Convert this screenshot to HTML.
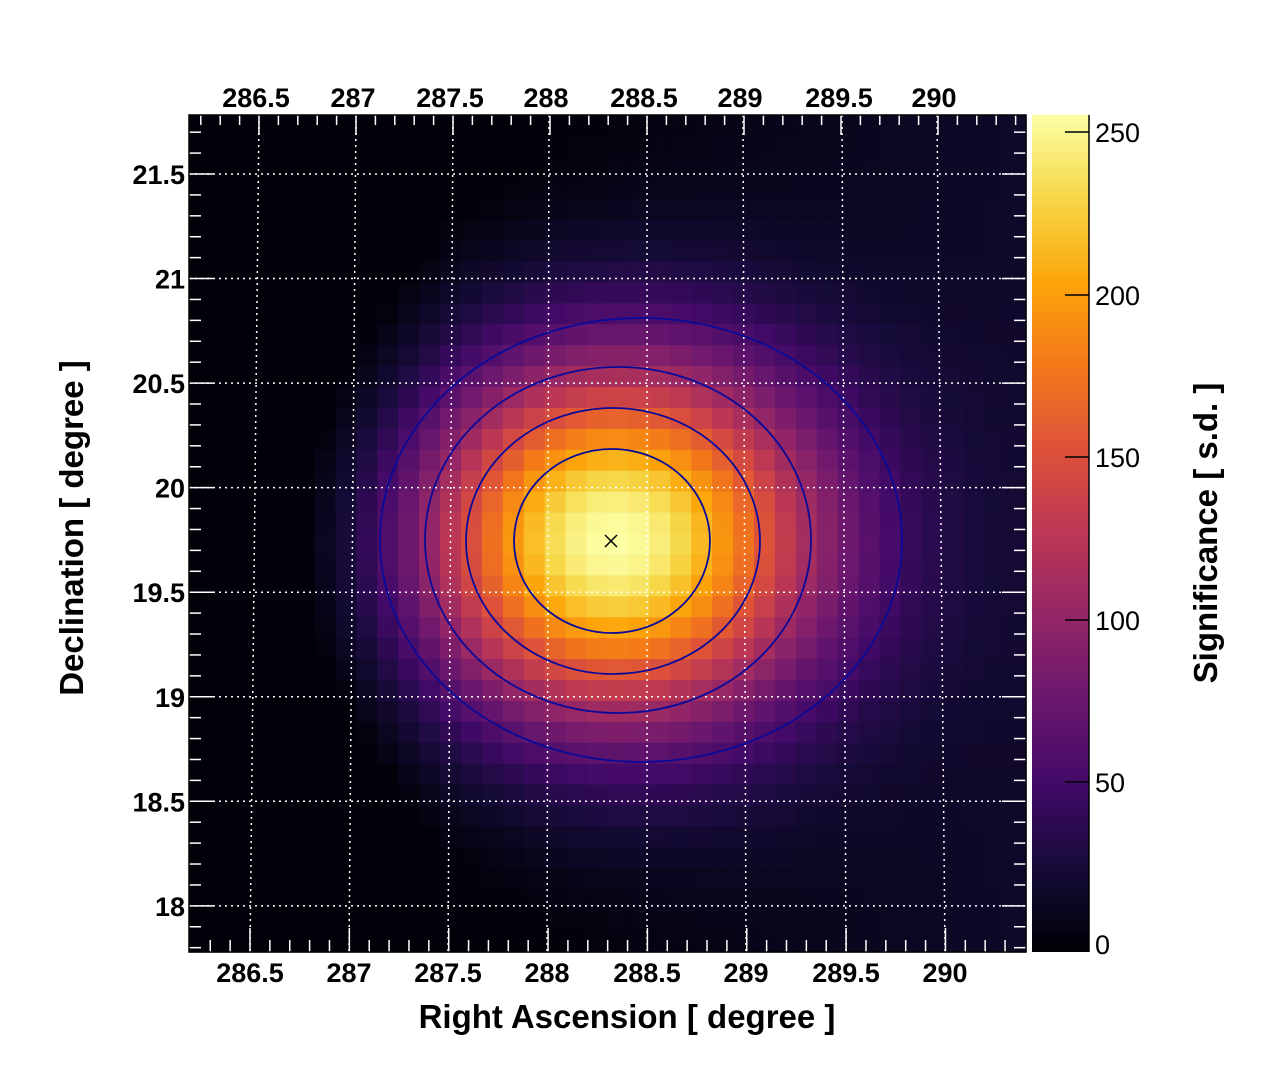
<!DOCTYPE html>
<html><head><meta charset="utf-8">
<style>
html,body{margin:0;padding:0;background:#fff;}
svg{display:block;font-family:"Liberation Sans",sans-serif;}
</style></head>
<body>
<svg id="s" width="1268" height="1092" viewBox="0 0 1268 1092" xmlns="http://www.w3.org/2000/svg">
<defs>
<linearGradient id="cb" x1="0" y1="1" x2="0" y2="0">
<stop offset="0" stop-color="#000004"/><stop offset="0.1" stop-color="#160b39"/>
<stop offset="0.2" stop-color="#420a68"/><stop offset="0.3" stop-color="#6a176e"/>
<stop offset="0.4" stop-color="#932667"/><stop offset="0.5" stop-color="#bc3754"/>
<stop offset="0.6" stop-color="#dd513a"/><stop offset="0.7" stop-color="#f37819"/>
<stop offset="0.8" stop-color="#fca50a"/><stop offset="0.9" stop-color="#f6d746"/>
<stop offset="1" stop-color="#fcffa4"/>
</linearGradient>
</defs>
<g id="heat"></g>
<g id="over"></g>
<rect x="1032" y="115" width="57" height="837" fill="url(#cb)"/>
<line x1="1089" y1="115" x2="1089" y2="952" stroke="#000" stroke-width="1.5"/>
<g stroke="#000" stroke-width="1.5">
<line x1="1065" y1="132" x2="1089" y2="132"/><line x1="1065" y1="295" x2="1089" y2="295"/>
<line x1="1065" y1="457" x2="1089" y2="457"/><line x1="1065" y1="620" x2="1089" y2="620"/>
<line x1="1065" y1="782" x2="1089" y2="782"/>
</g>
<g font-size="27" fill="#000">
<text x="1095" y="142">250</text><text x="1095" y="305">200</text><text x="1095" y="467">150</text>
<text x="1095" y="630">100</text><text x="1095" y="792">50</text><text x="1095" y="954">0</text>
</g>
<g font-size="27" font-weight="bold" fill="#000" text-anchor="middle" id="lab"></g>
<text x="627" y="1028" font-size="33" font-weight="bold" text-anchor="middle">Right Ascension [ degree ]</text>
<text transform="translate(83,528) rotate(-90)" font-size="33" font-weight="bold" text-anchor="middle">Declination [ degree ]</text>
<text transform="translate(1217,533) rotate(-90)" font-size="33" font-weight="bold" text-anchor="middle">Significance [ s.d. ]</text>
</svg>
<script>
var NS="http://www.w3.org/2000/svg";
function el(p,t,a,txt){var e=document.createElementNS(NS,t);for(var k in a)e.setAttribute(k,a[k]);if(txt!=null)e.textContent=txt;p.appendChild(e);return e;}
var st=[[0,0,0,4],[.1,22,11,57],[.2,66,10,104],[.3,106,23,110],[.4,147,38,103],[.5,188,55,84],[.6,221,81,58],[.7,243,120,25],[.8,252,165,10],[.9,246,215,70],[1,252,255,164]];
function cmap(t){t=Math.max(0,Math.min(1,t));for(var i=1;i<st.length;i++){if(t<=st[i][0]){var a=st[i-1],b=st[i],f=(t-a[0])/(b[0]-a[0]);return "rgb("+[1,2,3].map(function(j){return Math.round(a[j]+(b[j]-a[j])*f)}).join(",")+")";}}}
var H=document.getElementById("heat"),X0=189,Y0=115,W=837,N=40,c=W/N;
for(var i=0;i<N;i++)for(var j=0;j<N;j++){
 var x=X0+(i+.5)*c,y=Y0+(j+.5)*c;
 var dx=x-611,dy=y-541,sx=dx<0?139:146;
 var v=255*Math.exp(-dx*dx/(2*sx*sx)-dy*dy/(2*130*130));
 v+=Math.max(0,(x-330)/670)*25-10;
 if(x<450)v-=(450-x)/130*10;
 v=Math.max(0,v);
 el(H,"rect",{x:(X0+i*c).toFixed(2),y:(Y0+j*c).toFixed(2),width:(c+.6).toFixed(2),height:(c+.6).toFixed(2),fill:cmap((v+2.5)/257.5)});
}
var O=document.getElementById("over");
var botX=[250,349,448,547,647,746,846,945],topX=[259,356,453,549,647,743,842,937];
for(var k=0;k<8;k++)el(O,"line",{x1:topX[k],y1:115,x2:botX[k],y2:952,stroke:"#fff","stroke-width":1.5,"stroke-dasharray":"2,4"});
var decY=function(d){return 174+(21.5-d)*209.1;};
for(var d=18;d<=21.5;d+=.5)el(O,"line",{x1:189,y1:decY(d),x2:1026,y2:decY(d),stroke:"#fff","stroke-width":1.5,"stroke-dasharray":"2,4"});
[[612,541,98,92],[613,541,147,133],[618,540,193,173],[641,540,261,222]].forEach(function(e){el(O,"ellipse",{cx:e[0],cy:e[1],rx:e[2],ry:e[3],fill:"none",stroke:"#0a0a9a","stroke-width":1.8});});
el(O,"path",{d:"M605 535L617 547M617 535L605 547",stroke:"#000","stroke-width":1.5});
var g={stroke:"#fff","stroke-width":1.5};
for(var m=0;m<=42;m++){var v=286.2+m*0.1;var x=250+(v-286.5)*198.7;if(x<191||x>1024)continue;var maj=Math.abs(v*2-Math.round(v*2))<1e-6;el(O,"line",Object.assign({x1:x,y1:952,x2:x,y2:952-(maj?24:12)},g));}
for(var m=0;m<=45;m++){var v=286.1+m*0.1;var x=259+(v-286.5)*194;if(x<191||x>1024)continue;var maj=Math.abs(v*2-Math.round(v*2))<1e-6;el(O,"line",Object.assign({x1:x,y1:115,x2:x,y2:115+(maj?20:10)},g));}
for(var m=0;m<=45;m++){var d=17.7+m*0.1;var y=decY(d);if(y<117||y>950)continue;var maj=Math.abs(d*2-Math.round(d*2))<1e-6;el(O,"line",Object.assign({x1:189,y1:y,x2:189+(maj?24:12),y2:y},g));el(O,"line",Object.assign({x1:1026,y1:y,x2:1026-(maj?24:12),y2:y},g));}
el(O,"rect",{x:189,y:115,width:837,height:837,fill:"none",stroke:"#000","stroke-width":1.5});
var L=document.getElementById("lab");
var bl=["286.5","287","287.5","288","288.5","289","289.5","290"];
for(var k=0;k<8;k++){el(L,"text",{x:botX[k],y:982},bl[k]);el(L,"text",{x:topX[k]-3,y:107},bl[k]);}
var dl=["21.5","21","20.5","20","19.5","19","18.5","18"];
for(var k=0;k<8;k++){el(L,"text",{x:185,y:decY(21.5-k*.5)+10,"text-anchor":"end"},dl[k]);}
</script>
</body></html>
